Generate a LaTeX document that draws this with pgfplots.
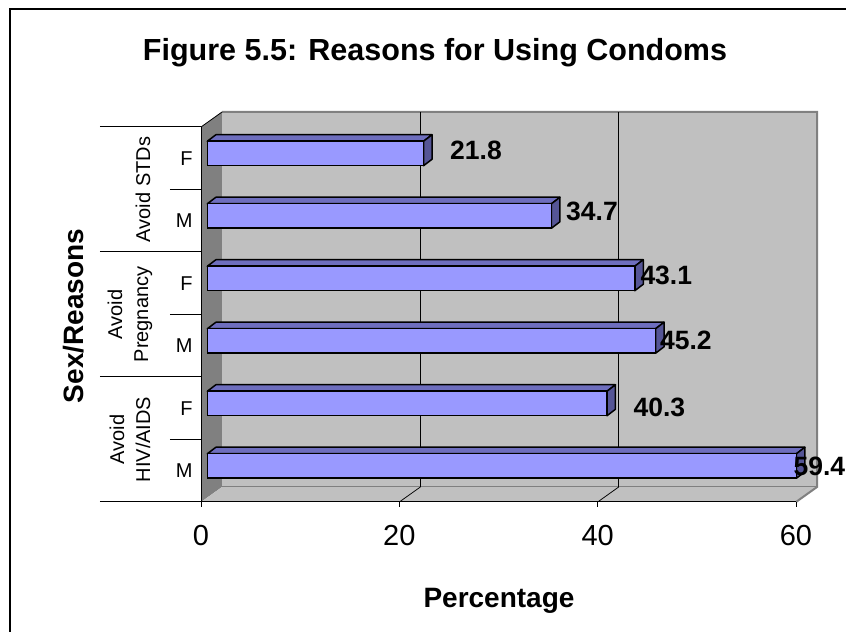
\documentclass[border=0pt]{standalone}
\usepackage{pgfplots}
\pgfplotsset{compat=1.18}
\usepackage{pgfplotstable}
\usepackage{fontspec}
\setmainfont{Liberation Sans}
\definecolor{barfront}{RGB}{153,153,255}
\definecolor{bartop}{RGB}{110,110,190}
\definecolor{barside}{RGB}{85,85,150}
\definecolor{wallback}{RGB}{192,192,192}
\definecolor{wallside}{RGB}{128,128,128}
\definecolor{floorc}{RGB}{192,192,192}

\pgfplotstableread{
row v lx ly
0 59.4 59.74 0.565
1 40.3 43.60 1.520
2 45.2 46.28 2.592
3 43.1 44.30 3.632
4 34.7 36.81 4.645
5 21.8 25.11 5.621
}\datatable

\begin{document}
\begin{tikzpicture}
\useasboundingbox (0,0) rectangle (846bp,632bp);
\fill[white] (0,0) rectangle (846bp,632bp);
\draw[black, line width=1.5bp] (10bp,0) -- (10bp,623bp) -- (846bp,623bp);
\begin{axis}[
  at={(201bp,130bp)}, anchor=south west,
  scale only axis, width=595bp, height=375bp,
  xmin=0, xmax=60, ymin=0, ymax=6,
  clip=false,
  axis on top,
  axis x line*=bottom, axis y line*=left,
  axis line style={black, line width=1bp},
  xtick={0,20,40,60},
  tick align=outside,
  major tick length=5bp,
  xtick style={black, line width=1bp},
  ytick={0.5,1.5,2.5,3.5,4.5,5.5},
  yticklabels={M,F,M,F,M,F},
  ytick style={draw=none},
  /pgf/number format/assume math mode=true,
  xticklabel style={font=\fontsize{29bp}{34bp}\selectfont, anchor=base, yshift=-38bp},
  yticklabel style={font=\fontsize{20bp}{24bp}\selectfont, anchor=east},
]
% walls and floor
\fill[wallside] (axis cs:0,0) -- (axis cs:0,6) -- (axis cs:2.12,6.24) -- (axis cs:2.12,0.24) -- cycle;
\fill[floorc] (axis cs:0,0) -- (axis cs:60,0) -- (axis cs:62.12,0.24) -- (axis cs:2.12,0.24) -- cycle;
\fill[wallback] (axis cs:2.12,0.24) rectangle (axis cs:62.12,6.24);
\draw[wallside, line width=2bp] (axis cs:2.12,6.24) -- (axis cs:62.12,6.24) -- (axis cs:62.12,0.24) -- (axis cs:60,0);
\draw[wallside, line width=1bp] (axis cs:2.12,0.24) -- (axis cs:62.12,0.24);
\draw[black, line width=0.8bp] (axis cs:0,6) -- (axis cs:2.12,6.24);
\draw[black, line width=0.75bp] (axis cs:22.12,0.24) -- (axis cs:22.12,6.24) (axis cs:42.12,0.24) -- (axis cs:42.12,6.24);
\draw[black, line width=0.75bp] (axis cs:20,0) -- (axis cs:22.12,0.24) (axis cs:40,0) -- (axis cs:42.12,0.24);
% category separators
\draw[black, line width=1bp] (axis cs:-10.2,0) -- (axis cs:0,0) (axis cs:-10.2,2) -- (axis cs:0,2) (axis cs:-10.2,4) -- (axis cs:0,4) (axis cs:-10.2,6) -- (axis cs:0,6);
\draw[black, line width=1bp] (axis cs:-3.13,1) -- (axis cs:0,1) (axis cs:-3.13,3) -- (axis cs:0,3) (axis cs:-3.13,5) -- (axis cs:0,5);
\node[rotate=90, align=center, font=\fontsize{20bp}{26bp}\selectfont] at (axis cs:-5.85,5) {Avoid STDs};
\node[rotate=90, align=center, font=\fontsize{20bp}{26bp}\selectfont] at (axis cs:-7.16,3) {Avoid\\Pregnancy};
\node[rotate=90, align=center, font=\fontsize{20bp}{26bp}\selectfont] at (axis cs:-7.16,1) {Avoid\\HIV/AIDS};
% data labels (behind bars)
\addplot[draw=none, mark=none, point meta=explicit,
  nodes near coords={\pgfmathprintnumber[fixed,precision=1,fixed zerofill]{\pgfplotspointmeta}},
  nodes near coords align=horizontal,
  every node near coord/.append style={anchor=west, inner sep=0pt, font=\bfseries\fontsize{26.5bp}{30bp}\selectfont, text=black}]
  table[x=lx, y=ly, meta=v] {\datatable};
% 3D faces of bars
\pgfplotsinvokeforeach{0,...,5}{
  \pgfplotstablegetelem{#1}{v}\of\datatable
  \pgfmathsetmacro\xr{\pgfplotsretval+0.64}
  \pgfmathsetmacro\xrr{\xr+0.857}
  \pgfmathsetmacro\yb{#1+0.5+0.076-0.196}
  \pgfmathsetmacro\yt{#1+0.5+0.076+0.196}
  \pgfmathsetmacro\ybb{\yb+0.104}
  \pgfmathsetmacro\ytt{\yt+0.104}
  \edef\tmp{\noexpand\addplot[fill=bartop, draw=black, line width=1.5bp, line join=round] coordinates {(0.64,\yt) (\xr,\yt) (\xrr,\ytt) (1.497,\ytt)} -- cycle;
  \noexpand\addplot[fill=barside, draw=black, line width=1.5bp, line join=round] coordinates {(\xr,\yb) (\xr,\yt) (\xrr,\ytt) (\xrr,\ybb)} -- cycle;}
  \tmp
}
% front faces
\addplot[xbar, bar width=24.5bp, bar shift=0pt, fill=barfront, draw=black, line width=1.5bp, xshift=6.35bp, yshift=4.75bp]
  table[x=v, y expr=\thisrow{row}+0.5] {\datatable};
\end{axis}
\node[anchor=base, font=\bfseries\fontsize{30.5bp}{36bp}\selectfont] at (435bp,571bp) {Figure 5.5: Reasons for Using Condoms};
\node[anchor=base, font=\bfseries\fontsize{28bp}{32bp}\selectfont] at (499bp,25bp) {Percentage};
\node[anchor=base, rotate=90, font=\bfseries\fontsize{28bp}{32bp}\selectfont] at (83bp,316bp) {Sex/Reasons};
\end{tikzpicture}
\end{document}
